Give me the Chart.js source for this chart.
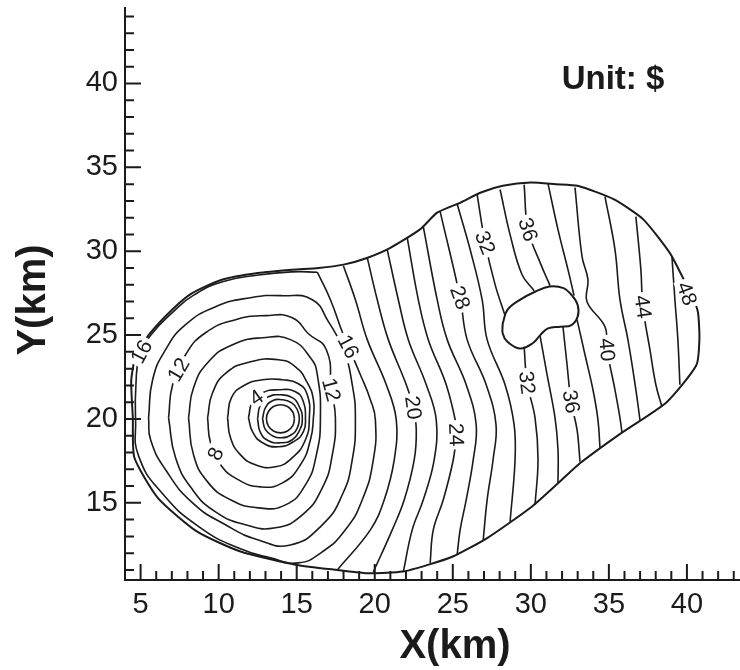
<!DOCTYPE html>
<html><head><meta charset="utf-8">
<script src="https://cdn.jsdelivr.net/npm/chart.js@4.4.1/dist/chart.umd.min.js"></script>
<style>html,body{margin:0;padding:0;background:#fff}#wrap{position:relative;width:740px;height:670px}</style>
</head><body><div id="wrap"><canvas id="c"></canvas></div>
<script>
// ---- data (km) ----
const xTickLabels = [5, 10, 15, 20, 25, 30, 35, 40];
const yTickLabels = [15, 20, 25, 30, 35, 40];

const boundary = [[4.5,20.1],[4.4,22.3],[4.7,23.8],[5.6,25.1],[7.0,26.5],[8.3,27.5],[10.2,28.3],[12.5,28.7],[14.7,28.9],[16.4,29.0],[18.0,29.2],[19.5,29.6],[21.0,30.2],[22.9,31.3],[24.0,32.3],[25.5,32.9],[26.8,33.5],[28.2,33.9],[30.0,34.1],[31.6,34.0],[33.0,33.9],[35.3,33.1],[37.2,31.9],[38.9,29.9],[39.7,28.5],[40.3,27.4],[40.7,26.4],[40.8,24.8],[40.6,23.2],[38.7,21.0],[35.7,19.1],[33.2,17.4],[31.9,16.3],[30.1,14.8],[27.2,12.9],[25.0,11.8],[23.4,11.3],[21.8,10.9],[19.7,10.8],[17.6,11.0],[15.0,11.3],[11.4,12.1],[8.6,13.3],[6.1,15.3],[4.6,17.7],[4.5,20.1]];
const island = [[28.2,25.7],[28.5,26.5],[29.3,27.1],[30.3,27.6],[31.2,27.9],[32.1,27.8],[32.6,27.4],[33.0,26.8],[33.0,26.1],[32.6,25.6],[31.9,25.5],[31.1,25.4],[30.6,25.0],[30.1,24.5],[29.3,24.2],[28.5,24.6],[28.2,25.1],[28.2,25.7]];

const ringInner = [[14.86,20.01],[14.74,20.43],[14.41,20.74],[13.96,20.85],[13.51,20.74],[13.18,20.43],[13.06,20.01],[13.18,19.59],[13.51,19.28],[13.96,19.17],[14.41,19.28],[14.74,19.59],[14.86,20.01]];
const ringA = [[12.81,20.01],[13.00,20.67],[13.45,21.09],[14.02,21.15],[14.66,20.97],[15.04,20.55],[15.17,20.01],[15.04,19.47],[14.66,19.06],[14.02,18.88],[13.45,19.00],[13.00,19.36],[12.81,20.01]];
const ringB = [[12.49,20.01],[12.68,20.85],[13.19,21.32],[13.96,21.44],[14.72,21.27],[15.17,20.73],[15.36,20.01],[15.17,19.30],[14.72,18.76],[13.96,18.58],[13.19,18.70],[12.68,19.18],[12.49,20.01]];
const contour4 = [[11.91,20.07],[12.17,21.03],[12.81,21.56],[13.83,21.74],[14.92,21.62],[15.43,21.03],[15.56,20.07],[15.43,19.24],[14.79,18.64],[13.83,18.34],[12.81,18.58],[12.17,19.24],[11.91,20.07]];
const contour6 = [[10.57,20.07],[10.82,21.27],[11.59,21.98],[12.81,22.34],[14.09,22.34],[15.11,22.10],[15.68,21.44],[15.81,20.07],[15.56,18.76],[14.72,17.69],[13.64,17.15],[12.36,17.27],[11.40,17.86],[10.76,18.88],[10.57,20.07]];
const contour8 = [[9.29,20.07],[9.61,21.56],[10.50,22.76],[12.04,23.41],[13.83,23.53],[14.92,23.11],[15.68,22.16],[16.07,21.15],[16.07,20.07],[15.88,18.76],[15.24,17.27],[14.09,16.19],[12.68,15.95],[11.27,16.37],[10.12,17.27],[9.48,18.58],[9.29,20.07]];
const contour10 = [[8.07,20.07],[8.39,21.86],[9.35,23.41],[10.89,24.43],[12.81,24.84],[14.60,24.73],[15.88,23.65],[16.32,22.64],[16.52,20.07],[16.26,17.86],[15.56,16.07],[14.28,14.88],[12.55,14.70],[10.76,15.18],[9.29,16.25],[8.39,17.86],[8.07,20.07]];
const contour12 = [[6.79,20.07],[7.05,22.04],[7.88,23.83],[9.16,25.14],[11.08,25.92],[13.00,26.16],[14.72,26.04],[15.75,25.08],[16.90,24.13],[17.22,21.74],[17.48,20.07],[17.28,17.86],[16.64,15.89],[15.36,14.28],[13.64,13.51],[11.72,13.69],[9.80,14.46],[8.33,15.78],[7.24,17.69],[6.79,20.07]];
const contour14 = [[5.51,20.07],[5.77,22.34],[6.60,24.13],[7.88,25.62],[9.80,26.69],[12.04,27.23],[14.09,27.35],[16.00,27.11],[17.03,25.80],[17.99,24.13],[18.56,22.04],[18.76,19.95],[18.56,17.57],[17.92,15.48],[16.64,13.69],[14.60,12.49],[12.55,12.79],[10.44,13.69],[8.33,15.00],[6.60,16.97],[5.64,18.76],[5.51,20.07]];
const contour16 = [[16.32,28.75],[17.16,27.11],[17.99,25.02],[19.08,22.64],[19.72,21.15],[20.04,19.95],[19.91,17.57],[19.20,15.18],[18.12,13.39],[16.64,12.08],[15.11,11.42],[13.32,11.72],[11.40,12.26],[8.84,13.51],[6.41,15.54],[4.87,17.80],[4.68,19.95],[4.70,22.04],[4.95,23.83],[5.70,25.05],[7.10,26.40],[8.40,27.38],[10.25,28.18],[12.55,28.58],[14.72,28.77],[16.32,28.75]];
const contour18 = [[17.99,29.14],[18.76,27.11],[19.52,24.73],[20.74,22.04],[21.38,19.95],[21.25,17.57],[20.61,15.18],[19.72,13.39],[17.60,11.00]];
const contour20 = [[19.52,29.62],[20.16,27.11],[20.87,24.73],[22.02,22.04],[22.47,20.67],[22.66,19.36],[22.53,17.57],[21.89,15.18],[21.12,13.39],[19.91,10.88]];
const contour22 = [[20.80,30.10],[21.51,27.11],[22.15,24.73],[23.30,22.04],[23.94,19.95],[23.81,17.57],[23.11,15.18],[22.40,13.39],[21.83,10.88]];
const contour24 = [[22.08,30.81],[22.79,27.11],[23.43,24.73],[24.58,22.04],[25.22,19.65],[25.22,19.06],[25.03,17.57],[24.39,15.18],[23.75,13.39],[23.55,11.42]];
const contour26 = [[23.11,31.47],[24.00,27.11],[24.64,24.73],[25.86,22.04],[26.50,19.65],[26.31,17.57],[25.86,15.18],[25.47,13.39],[25.28,11.90]];
const contour28 = [[24.19,32.36],[25.47,27.23],[25.92,24.73],[27.14,22.04],[27.77,19.65],[27.58,17.57],[27.20,15.18],[26.95,12.79]];
const contour30 = [[25.28,32.81],[26.11,30.10],[26.88,27.11],[27.20,24.73],[28.35,22.04],[28.93,19.65],[28.99,17.57],[28.67,13.87]];
const contour32a = [[26.56,33.38],[27.07,30.51],[27.71,28.01],[28.35,26.16]];
const contour32b = [[29.57,24.31],[29.76,22.16],[30.27,20.07],[30.46,17.57],[30.27,14.88]];
const contour34a = [[28.03,33.68],[28.67,30.99],[29.44,28.60],[30.21,27.65]];
const contour34b = [[30.59,24.96],[31.04,22.64],[31.55,20.07],[31.74,18.16],[31.74,16.19]];
const contour36a = [[29.57,33.97],[29.82,31.29],[30.65,29.20],[31.23,27.95]];
const contour36b = [[32.06,25.50],[32.32,23.23],[32.58,21.03],[32.96,19.36],[33.15,17.45]];
const contour38a = [[31.10,34.03],[31.74,31.29],[32.38,28.90],[32.77,27.35]];
const contour38b = [[32.96,25.92],[33.47,23.83],[33.98,21.74],[34.30,19.95],[34.43,18.28]];
const contour40 = [[32.83,33.79],[33.28,29.68],[33.66,28.31],[33.60,26.99],[34.75,25.50],[34.88,24.13],[35.39,21.74],[35.71,20.07],[35.84,19.18]];
const contour42 = [[34.75,33.26],[35.39,30.10],[35.71,27.11],[36.22,24.73],[36.73,21.74],[36.99,19.95]];
const contour44 = [[36.73,32.06],[37.05,28.90],[37.18,26.69],[37.63,24.13],[38.01,22.04],[38.40,20.73]];
const contour46 = [[39.04,29.68],[39.23,27.11],[39.42,24.73],[39.55,22.04]];

const contourLabelText = ['4','8','12','16','12','16','20','24','28','32','36','32','36','40','44','48'];
const contourLabelX = [12.42, 9.80, 7.43, 5.06, 17.22, 18.31, 22.47, 25.22, 25.47, 27.07, 29.82, 29.76, 32.58, 34.88, 37.18, 40.00];
const contourLabelY = [21.27, 17.92, 22.94, 24.01, 21.74, 24.31, 20.67, 19.06, 27.23, 30.51, 31.29, 22.16, 21.03, 24.13, 26.69, 27.47];

// ---- styling ----
const labelAngle = [-35, -65, -60, -62, 75, 62, 82, 88, 70, 68, 72, 83, 80, 85, 82, 70];
const FONT = '"Liberation Sans", Arial, Helvetica, sans-serif';
const INK = '#1b1b1b';

const closedRings = [ringInner, ringA, ringB, contour4, contour6, contour8, contour10, contour12, contour14, contour16];
const openLines = [contour18, contour20, contour22, contour24, contour26, contour28, contour30, contour32a, contour32b,
  contour34a, contour34b, contour36a, contour36b, contour38a, contour38b, contour40, contour42, contour44, contour46];

const toXY = pts => pts.map(p => ({x: p[0], y: p[1]}));
const lineDs = (pts, t, w) => ({data: toXY(pts), showLine: true, borderColor: INK, borderWidth: w,
  pointRadius: 0, tension: t, fill: false});
const datasets = [];
closedRings.forEach(p => datasets.push(lineDs(p, 0.5, 1.6)));
openLines.forEach(p => datasets.push(lineDs(p, 0.4, 1.6)));
datasets.push(lineDs(boundary, 0.2, 2));
datasets.push(lineDs(island, 0.4, 2));

const contourLabelPlugin = {
  id: 'contourLabels',
  afterDatasetsDraw(chart) {
    const ctx = chart.ctx, xs = chart.scales.x, ys = chart.scales.y;
    ctx.save();
    ctx.font = '21px ' + FONT;
    ctx.textAlign = 'center';
    ctx.textBaseline = 'middle';
    contourLabelText.forEach((t, i) => {
      const px = xs.getPixelForValue(contourLabelX[i]);
      const py = ys.getPixelForValue(contourLabelY[i]);
      const w = ctx.measureText(t).width + 6;
      ctx.save();
      ctx.translate(px, py);
      ctx.rotate(labelAngle[i] * Math.PI / 180);
      ctx.fillStyle = '#fff';
      ctx.fillRect(-w / 2, -9, w, 18);
      ctx.fillStyle = INK;
      ctx.fillText(t, 0, 1);
      ctx.restore();
    });
    ctx.restore();
  }
};

const axisDecorPlugin = {
  id: 'axisDecor',
  afterDraw(chart) {
    const ctx = chart.ctx, xs = chart.scales.x, ys = chart.scales.y, a = chart.chartArea;
    ctx.save();
    ctx.strokeStyle = INK;
    ctx.lineWidth = 2;
    ctx.beginPath();
    xs.ticks.forEach(t => {
      const px = xs.getPixelForValue(t.value);
      const len = xTickLabels.includes(t.value) ? 16 : 9;
      ctx.moveTo(px, a.bottom); ctx.lineTo(px, a.bottom - len);
    });
    ys.ticks.forEach(t => {
      const py = ys.getPixelForValue(t.value);
      const len = yTickLabels.includes(t.value) ? 16 : 9;
      ctx.moveTo(a.left, py); ctx.lineTo(a.left + len, py);
    });
    ctx.stroke();
    ctx.fillStyle = INK;
    ctx.textAlign = 'center';
    ctx.textBaseline = 'middle';
    ctx.font = 'bold 40px ' + FONT;
    ctx.fillText('X(km)', 455, 647);
    ctx.save();
    ctx.translate(34, 300);
    ctx.rotate(-Math.PI / 2);
    ctx.fillText('Y(km)', 0, 0);
    ctx.restore();
    ctx.font = 'bold 33px ' + FONT;
    ctx.fillText('Unit: $', 613, 80);
    ctx.restore();
  }
};

new Chart(document.getElementById('c'), {
  type: 'scatter',
  data: {datasets},
  plugins: [contourLabelPlugin, axisDecorPlugin],
  options: {
    responsive: true, maintainAspectRatio: false, animation: false,
    layout: {padding: {top: 8, right: 0, left: 0, bottom: 0}},
    plugins: {legend: {display: false}, tooltip: {enabled: false}},
    scales: {
      x: {
        type: 'linear', min: 4, max: 43.4,
        afterFit: s => { s.height = 90; s.paddingLeft = 0; s.paddingRight = 0; },
        grid: {display: false, drawTicks: false},
        border: {display: true, color: INK, width: 2},
        ticks: {stepSize: 1, includeBounds: false, autoSkip: false, maxRotation: 0,
          padding: 8, color: INK, font: {size: 29, family: FONT},
          callback: v => xTickLabels.includes(v) ? String(v) : ''}
      },
      y: {
        type: 'linear', min: 10.4, max: 44.5,
        afterFit: s => { s.width = 125; s.paddingTop = 0; s.paddingBottom = 0; },
        grid: {display: false, drawTicks: false},
        border: {display: true, color: INK, width: 2},
        ticks: {stepSize: 1, includeBounds: false, autoSkip: false,
          padding: 7, color: INK, font: {size: 29, family: FONT},
          callback: v => yTickLabels.includes(v) ? String(v) : ''}
      }
    }
  }
});
</script></body></html>
